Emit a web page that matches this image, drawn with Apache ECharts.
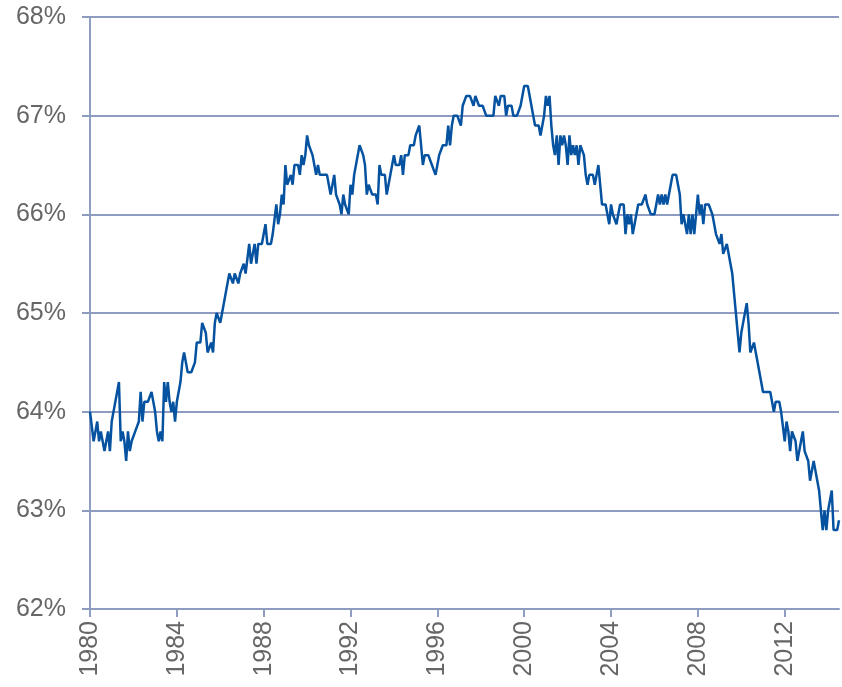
<!DOCTYPE html>
<html>
<head>
<meta charset="utf-8">
<script src="https://cdn.jsdelivr.net/npm/echarts@6/dist/echarts.min.js"></script>
<style>
html,body{margin:0;padding:0;background:#fff;}
#chart{width:842px;height:687px;}
</style>
</head>
<body>
<div id="chart"></div>
<script>
// Monthly values, Jan 1980 - Jul 2014 (percent)
var values1980s = [
  64.0,64.0,63.7,63.8,63.9,63.7,63.8,63.7,63.6,63.7,63.8,63.6,
  63.9,63.9,64.1,64.2,64.3,63.7,63.8,63.7,63.5,63.8,63.6,63.7,
  63.7,63.8,63.8,63.9,64.2,63.9,64.1,64.1,64.1,64.1,64.2,64.1,
  64.0,63.8,63.7,63.8,63.7,64.3,64.1,64.3,64.1,64.0,64.1,63.9,
  64.1,64.1,64.3,64.5,64.6,64.6,64.4,64.4,64.4,64.4,64.5,64.7,
  64.7,64.7,64.9,64.9,64.8,64.6,64.6,64.7,64.6,64.9,65.0,65.0,
  64.9,65.0,65.1,65.2,65.2,65.4,65.4,65.3,65.4,65.4,65.3,65.4,
  65.4,65.5,65.4,65.4,65.7,65.5,65.6,65.7,65.5,65.7,65.7,65.7,
  65.8,65.9,65.7,65.7,65.7,65.8,65.8,66.1,65.9,66.0,66.2,66.1,
  66.5,66.3,66.3,66.4,66.3,66.5,66.5,66.5,66.4,66.6,66.5,66.6
];
var values1990s = [
  66.8,66.7,66.7,66.6,66.6,66.4,66.5,66.4,66.4,66.4,66.4,66.4,
  66.3,66.2,66.3,66.4,66.2,66.2,66.1,66.0,66.2,66.1,66.1,66.0,
  66.3,66.2,66.4,66.5,66.6,66.7,66.7,66.6,66.5,66.2,66.3,66.3,
  66.2,66.2,66.2,66.1,66.5,66.4,66.4,66.4,66.2,66.3,66.3,66.5,
  66.6,66.5,66.5,66.5,66.6,66.4,66.6,66.6,66.6,66.7,66.7,66.7,
  66.8,66.8,66.9,66.9,66.5,66.6,66.6,66.6,66.6,66.5,66.5,66.4,
  66.4,66.6,66.6,66.7,66.7,66.7,66.9,66.7,66.9,67.0,67.0,67.0,
  67.0,66.9,67.1,67.1,67.2,67.2,67.2,67.2,67.1,67.2,67.2,67.1,
  67.1,67.1,67.1,67.0,67.0,67.0,67.0,67.0,67.2,67.2,67.1,67.2,
  67.2,67.2,67.0,67.1,67.1,67.1,67.0,67.0,67.0,67.0,67.1,67.1
];
var values2000s = [
  67.3,67.3,67.3,67.3,67.1,67.0,66.9,66.9,66.9,66.8,66.9,67.0,
  67.2,67.1,67.2,66.9,66.7,66.6,66.8,66.5,66.8,66.7,66.8,66.7,
  66.5,66.8,66.6,66.7,66.6,66.7,66.5,66.7,66.7,66.6,66.4,66.3,
  66.4,66.4,66.4,66.3,66.4,66.5,66.3,66.1,66.1,66.1,66.1,65.9,
  66.1,66.0,66.0,65.9,66.0,66.1,66.1,66.1,65.8,66.0,65.9,66.0,
  65.8,65.9,65.9,66.1,66.1,66.1,66.1,66.2,66.1,66.1,66.0,66.0,
  66.0,66.1,66.2,66.1,66.2,66.1,66.2,66.1,66.2,66.3,66.4,66.4,
  66.4,66.3,66.2,65.9,66.0,66.0,65.8,66.0,65.8,66.0,65.8,66.0,
  66.2,66.0,66.1,65.9,66.1,66.1,66.1,66.1,66.0,66.0,65.8,65.8,
  65.7,65.8,65.6,65.6,65.7,65.7,65.5,65.4,65.2,65.0,65.0,64.6
];
var values2010s = [
  64.8,64.9,64.9,65.1,64.9,64.6,64.6,64.7,64.6,64.5,64.5,64.3,
  64.2,64.2,64.2,64.2,64.2,64.1,64.0,64.1,64.1,64.1,64.0,64.0,
  63.7,63.9,63.8,63.6,63.8,63.8,63.7,63.5,63.6,63.7,63.8,63.6,
  63.6,63.5,63.3,63.3,63.5,63.4,63.3,63.2,63.2,62.8,63.0,62.8,
  63.0,63.0,63.2,62.8,62.8,62.8,62.9
];
var firstYear = 1980;
var yTicks = [62, 63, 64, 65, 66, 67, 68];

var values = values1980s.concat(values1990s, values2000s, values2010s);
var categories = [];
for (var i = 0; i < values.length; i++) {
  var y = firstYear + Math.floor(i / 12);
  var m = (i % 12) + 1;
  categories.push(y + '-' + (m < 10 ? '0' + m : m));
}

var gridColor = '#8E9CC2';
var chart = echarts.init(document.getElementById('chart'));
chart.setOption({
  animation: false,
  grid: { left: 90, right: 3, top: 17, bottom: 78, containLabel: false },
  xAxis: {
    type: 'category',
    data: categories,
    boundaryGap: false,
    axisLine: { show: true, lineStyle: { color: gridColor, width: 2 } },
    axisTick: { show: true, length: 8, interval: function (idx) { return idx % 48 === 0; }, lineStyle: { color: gridColor, width: 2 } },
    axisLabel: {
      interval: function (idx) { return idx % 48 === 0; },
      rotate: 90,
      margin: 12,
      fontFamily: 'Liberation Sans',
      fontSize: 25,
      color: '#666666',
      formatter: function (v) { return v.slice(0, 4); }
    },
    splitLine: { show: false }
  },
  yAxis: {
    type: 'value',
    min: yTicks[0],
    max: yTicks[yTicks.length - 1],
    interval: 1,
    axisLine: { show: true, lineStyle: { color: gridColor, width: 2 } },
    axisTick: { show: true, length: 8, lineStyle: { color: gridColor, width: 2 } },
    axisLabel: {
      margin: 24,
      fontFamily: 'Liberation Sans',
      fontSize: 25,
      color: '#666666',
      formatter: '{value}%'
    },
    splitLine: { show: true, lineStyle: { color: gridColor, width: 2 } }
  },
  series: [{
    type: 'line',
    data: values,
    symbol: 'none',
    lineStyle: { color: '#0552A0', width: 2.5 },
    z: 3
  }]
});
</script>
</body>
</html>
